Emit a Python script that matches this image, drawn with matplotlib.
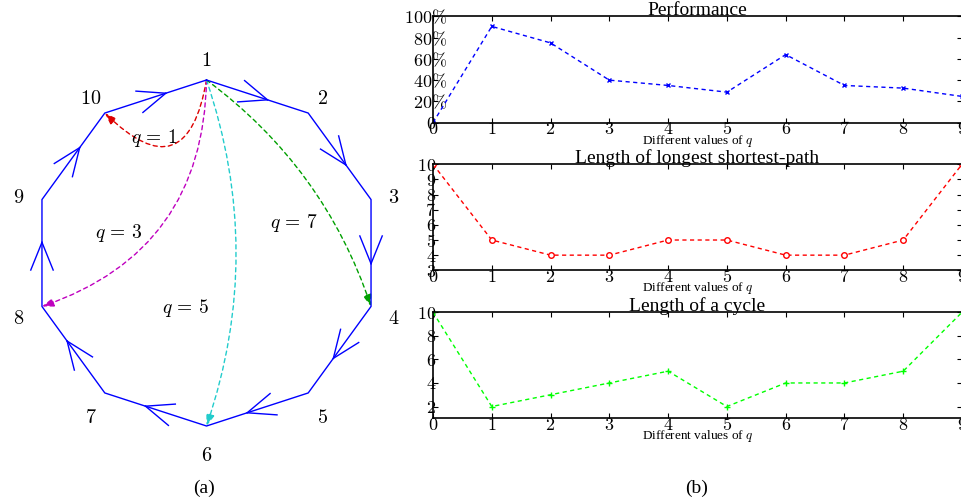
import numpy as np
import matplotlib
matplotlib.use("Agg")
from matplotlib import pyplot as plt
from matplotlib.patches import FancyArrowPatch
from matplotlib.transforms import ScaledTranslation

plt.rcParams['font.family'] = ['Liberation Serif', 'DejaVu Serif']
plt.rcParams['mathtext.fontset'] = 'cm'

# data for panel (b)
q_vals = [0, 1, 2, 3, 4, 5, 6, 7, 8, 9]
performance = [0.0, 0.905, 0.75, 0.40, 0.35, 0.287, 0.64, 0.35, 0.325, 0.247]
longest_path = [10, 5, 4, 4, 5, 5, 4, 4, 5, 10]
cycle_length = [10, 2, 3, 4, 5, 2, 4, 4, 5, 10]
perf_ticks = [0, 0.2, 0.4, 0.6, 0.8, 1.0]
perf_labels = ['$0$', r'$20\%$', r'$40\%$', r'$60\%$', r'$80\%$', r'$100\%$']

# data for panel (a)
n_nodes = 10
node_labels = ['1', '2', '3', '4', '5', '6', '7', '8', '9', '10']
shortcut_q = [1, 3, 5, 7]
shortcut_colors = ['#dd0000', '#bf00bf', '#22cccc', '#00a000']
shortcut_rad = [-0.95, -0.35, -0.17, -0.157]
shortcut_text_pos = [(-0.303, 0.665), (-0.506, 0.116), (-0.121, -0.32), (0.504, 0.172)]

W, H = 961, 504
fig = plt.figure(figsize=(W / 100, H / 100), dpi=100)

# ---------- (a) ring diagram ----------
cx, cy, R = 206.5, 253.0, 173.0     # pixel centre / radius
x0, x1, ytop, ybot = 0, 415, 40, 470
axa = fig.add_axes([x0 / W, 1 - ybot / H, (x1 - x0) / W, (ybot - ytop) / H])
axa.set_xlim((x0 - cx) / R, (x1 - cx) / R)
axa.set_ylim((cy - ybot) / R, (cy - ytop) / R)
axa.axis('off')

ang = np.deg2rad(90 - 36 * np.arange(n_nodes))
vx, vy = np.cos(ang), np.sin(ang)
axa.plot(np.append(vx, vx[0]), np.append(vy, vy[0]), color='#0000ff', lw=1.0)

# open chevrons on each edge
for k in range(n_nodes):
    j = (k + 1) % n_nodes
    d = np.array([vx[j] - vx[k], vy[j] - vy[k]])
    tip = np.array([vx[k], vy[k]]) + 0.6 * d
    back = -d / np.linalg.norm(d)
    for s in (1, -1):
        a = np.deg2rad(22 * s)
        rot = np.array([back[0] * np.cos(a) - back[1] * np.sin(a),
                        back[0] * np.sin(a) + back[1] * np.cos(a)])
        end = tip + 0.173 * rot
        axa.plot([tip[0], end[0]], [tip[1], end[1]], color='#0000ff', lw=1.0)

for k, lab in enumerate(node_labels):
    axa.text(1.14 * vx[k], 1.14 * vy[k] - 0.035, '$%s$' % lab,
             ha='center', va='center', fontsize=14.5)

for q, col, rad, tp in zip(shortcut_q, shortcut_colors, shortcut_rad, shortcut_text_pos):
    t = (-q) % n_nodes
    arr = FancyArrowPatch((vx[0], vy[0]), (vx[t], vy[t]),
                          connectionstyle='arc3,rad=%g' % rad,
                          arrowstyle='-|>,head_length=0.7,head_width=0.25',
                          mutation_scale=10, color=col, lw=1.0,
                          linestyle=(0, (3, 2.5)), shrinkA=0, shrinkB=0)
    axa.add_patch(arr)
    axa.text(tp[0], tp[1], '$q\\,=\\,%d$' % q, ha='center', va='center', fontsize=14)

# ---------- (b) three line plots ----------
left, right = 433, 962
panels = [
    (16.3, 122.7, performance, 'b', 'x', 'Performance', (0, 1), perf_ticks, perf_labels),
    (164.3, 270.3, longest_path, 'r', 'o', 'Length of longest shortest-path', (3, 10),
     list(range(3, 11)), ['$%d$' % v for v in range(3, 11)]),
    (312.3, 418.3, cycle_length, '#00ff00', '+', 'Length of a cycle', (1, 10),
     [2, 4, 6, 8, 10], ['$%d$' % v for v in [2, 4, 6, 8, 10]]),
]
for top, bot, vals, col, mk, title, ylim, yt, ytl in panels:
    ax = fig.add_axes([left / W, 1 - bot / H, (right - left) / W, (bot - top) / H])
    ax.plot(q_vals, vals, color=col, marker=mk, ms=4 if mk != 'x' else 3,
            mfc='white' if mk == 'o' else col, mec=col, mew=1.0,
            lw=1.0, dashes=(3, 2.5))
    ax.set_xlim(0, 9)
    ax.set_ylim(*ylim)
    ax.set_xticks(q_vals)
    ax.set_xticklabels(['$%d$' % v for v in q_vals])
    ax.set_yticks(yt)
    ax.set_yticklabels(ytl)
    ax.tick_params(direction='in', top=True, right=True, length=3.5, width=0.8,
                   labelsize=13)
    ax.tick_params(axis='y', pad=-2.2)
    ax.tick_params(axis='x', pad=-1)
    for sp in ax.spines.values():
        sp.set_linewidth(1.2)
    ax.set_title(title, fontsize=14, pad=1)
    ax.set_xlabel('Different values of $q$', fontsize=9.5)
    ax.xaxis.set_label_coords(0.5, -0.095)
    ax.xaxis.label.set_va('top')
    # percent signs stick out past the axis line, as in the original
    for lbl in ax.get_yticklabels():
        if '%' in lbl.get_text():
            lbl.set_transform(lbl.get_transform() +
                              ScaledTranslation(0.11, 0, fig.dpi_scale_trans))

fig.text(204 / W, 1 - 488.5 / H, '(a)', ha='center', va='center', fontsize=14)
fig.text(697 / W, 1 - 488.5 / H, '(b)', ha='center', va='center', fontsize=14)

fig.savefig('out.png', dpi=100)
